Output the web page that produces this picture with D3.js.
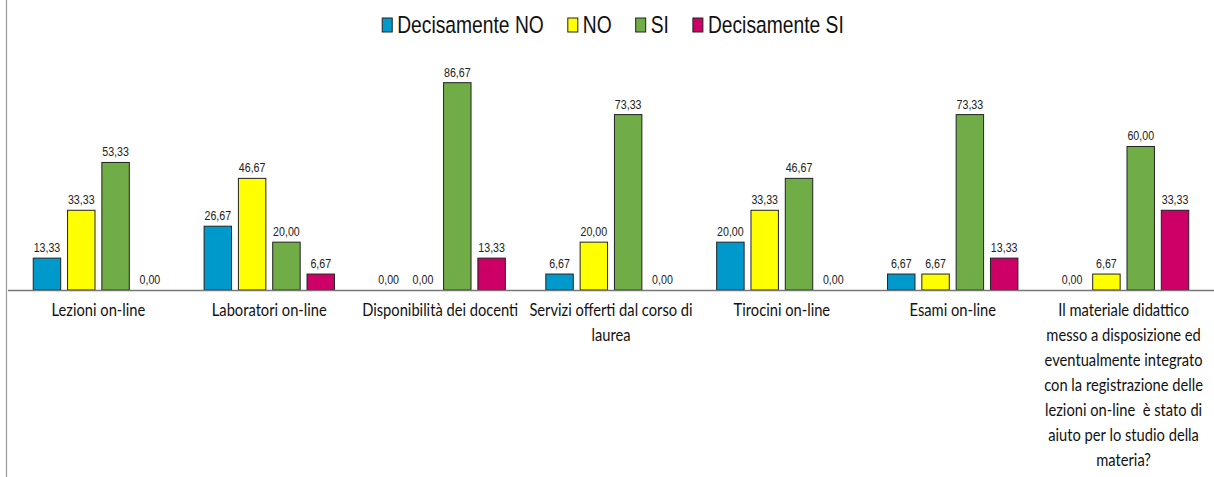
<!DOCTYPE html>
<html lang="it">
<head>
<meta charset="UTF-8">
<title>Valutazione didattica on-line</title>
<script src="https://cdnjs.cloudflare.com/ajax/libs/d3/7.8.5/d3.min.js"></script>
<style>
    body { margin: 0; background: #fff; font-family: "Liberation Sans", Arial, sans-serif; }
    .value { font-size: 13px; fill: #222; }
    .axis text { font-family: Lato, "Open Sans", sans-serif; font-size: 17.5px; fill: #111; white-space: pre; }
    .legend text { font-size: 23.5px; fill: #111; }
</style>
</head>
<body>
<div id="chart"></div>
<script>
    // categories (line breaks as in the original labels)
    const categories = [
        "Lezioni on-line",
        "Laboratori on-line",
        "Disponibilità dei docenti",
        "Servizi offerti dal corso di\nlaurea",
        "Tirocini on-line",
        "Esami on-line",
        "Il materiale didattico\nmesso a disposizione ed\neventualmente integrato\ncon la registrazione delle\nlezioni on-line  è stato di\naiuto per lo studio della\nmateria?"
    ];

    const series = ["Decisamente NO", "NO", "SI", "Decisamente SI"];
    const colors = ["#0099CC", "#FFFF00", "#70AD47", "#CC0066"];

    const decisamenteNo = [13.33, 26.67, 0.00, 6.67, 20.00, 6.67, 0.00];
    const no            = [33.33, 46.67, 0.00, 20.00, 33.33, 6.67, 6.67];
    const si            = [53.33, 20.00, 86.67, 73.33, 46.67, 73.33, 60.00];
    const decisamenteSi = [0.00, 6.67, 13.33, 0.00, 0.00, 13.33, 33.33];

    const values = [decisamenteNo, no, si, decisamenteSi];

    const width = 1214, height = 477;
    const baseY = 290;
    const narrow = 0.82;   // the original uses a condensed face

    const svg = d3.select("#chart").append("svg")
        .attr("width", width)
        .attr("height", height);

    const x0 = d3.scaleBand().domain(categories).range([13, 1209]);
    const x1 = d3.scaleBand().domain(series)
        .range([0, x0.bandwidth()])
        .paddingInner(0.2)
        .paddingOuter(0.59);
    const y = d3.scaleLinear().domain([0, 100]).range([baseY, 50.8]);
    const color = d3.scaleOrdinal().domain(series).range(colors);

    const fmt = v => v.toFixed(2).replace(".", ",");

    // left border of the chart area
    svg.append("line")
        .attr("x1", 6.5).attr("x2", 6.5)
        .attr("y1", 0).attr("y2", height)
        .attr("stroke", "#999")
        .attr("stroke-width", 1.2);

    // bars
    const rows = categories.map((c, i) => ({
        cat: c,
        items: series.map((s, j) => ({ s: s, v: values[j][i] }))
    }));

    const groups = svg.append("g").selectAll("g")
        .data(rows)
        .join("g")
        .attr("transform", d => `translate(${x0(d.cat)},0)`);

    groups.selectAll("rect")
        .data(d => d.items.filter(e => e.v > 0))
        .join("rect")
        .attr("x", d => x1(d.s))
        .attr("y", d => y(d.v))
        .attr("width", x1.bandwidth())
        .attr("height", d => y(0) - y(d.v))
        .attr("fill", d => color(d.s))
        .attr("stroke", "#222")
        .attr("stroke-width", 1);

    groups.selectAll("text.value")
        .data(d => d.items)
        .join("text")
        .attr("class", "value")
        .attr("transform", d => `translate(${x1(d.s) + x1.bandwidth() / 2},${y(d.v) - 6}) scale(${narrow},1)`)
        .attr("text-anchor", "middle")
        .text(d => fmt(d.v));

    // baseline
    svg.append("line")
        .attr("x1", 8).attr("x2", width)
        .attr("y1", baseY + 0.5).attr("y2", baseY + 0.5)
        .attr("stroke", "#777")
        .attr("stroke-width", 1.5);

    // category axis
    const axis = svg.append("g")
        .attr("class", "axis")
        .attr("transform", `translate(0,${baseY})`)
        .call(d3.axisBottom(x0).tickSize(0).tickPadding(0));
    axis.select(".domain").remove();
    axis.selectAll(".tick text").each(function (d) {
        const t = d3.select(this);
        const lines = d.split("\n");
        t.text(null).attr("y", 0).attr("dy", null);
        lines.forEach((ln, k) => {
            t.append("tspan")
                .attr("x", 0)
                .attr("y", 26 + k * 25)
                .text(ln);
        });
    });
    // squeeze the labels so "Disponibilità dei docenti" is as wide as in the original
    const refLabel = axis.selectAll(".tick text").filter(d => d === categories[2]);
    const axisScale = 156 / refLabel.node().getComputedTextLength();
    axis.selectAll(".tick text").attr("transform", `scale(${axisScale},1)`);

    // legend
    const legend = svg.append("g").attr("class", "legend");
    let lx = 0;
    series.forEach((s, i) => {
        const item = legend.append("g").attr("transform", `translate(${lx},0)`);
        item.append("rect")
            .attr("x", 0).attr("y", 18)
            .attr("width", 10).attr("height", 14)
            .attr("fill", colors[i])
            .attr("stroke", "#222")
            .attr("stroke-width", 1);
        const txt = item.append("text")
            .attr("transform", `translate(15,33) scale(${narrow},1)`)
            .text(s);
        lx += 15 + txt.node().getComputedTextLength() * narrow + 24;
    });
    const legendW = lx - 24;
    legend.attr("transform", `translate(${613 - legendW / 2},0)`);
</script>
</body>
</html>
